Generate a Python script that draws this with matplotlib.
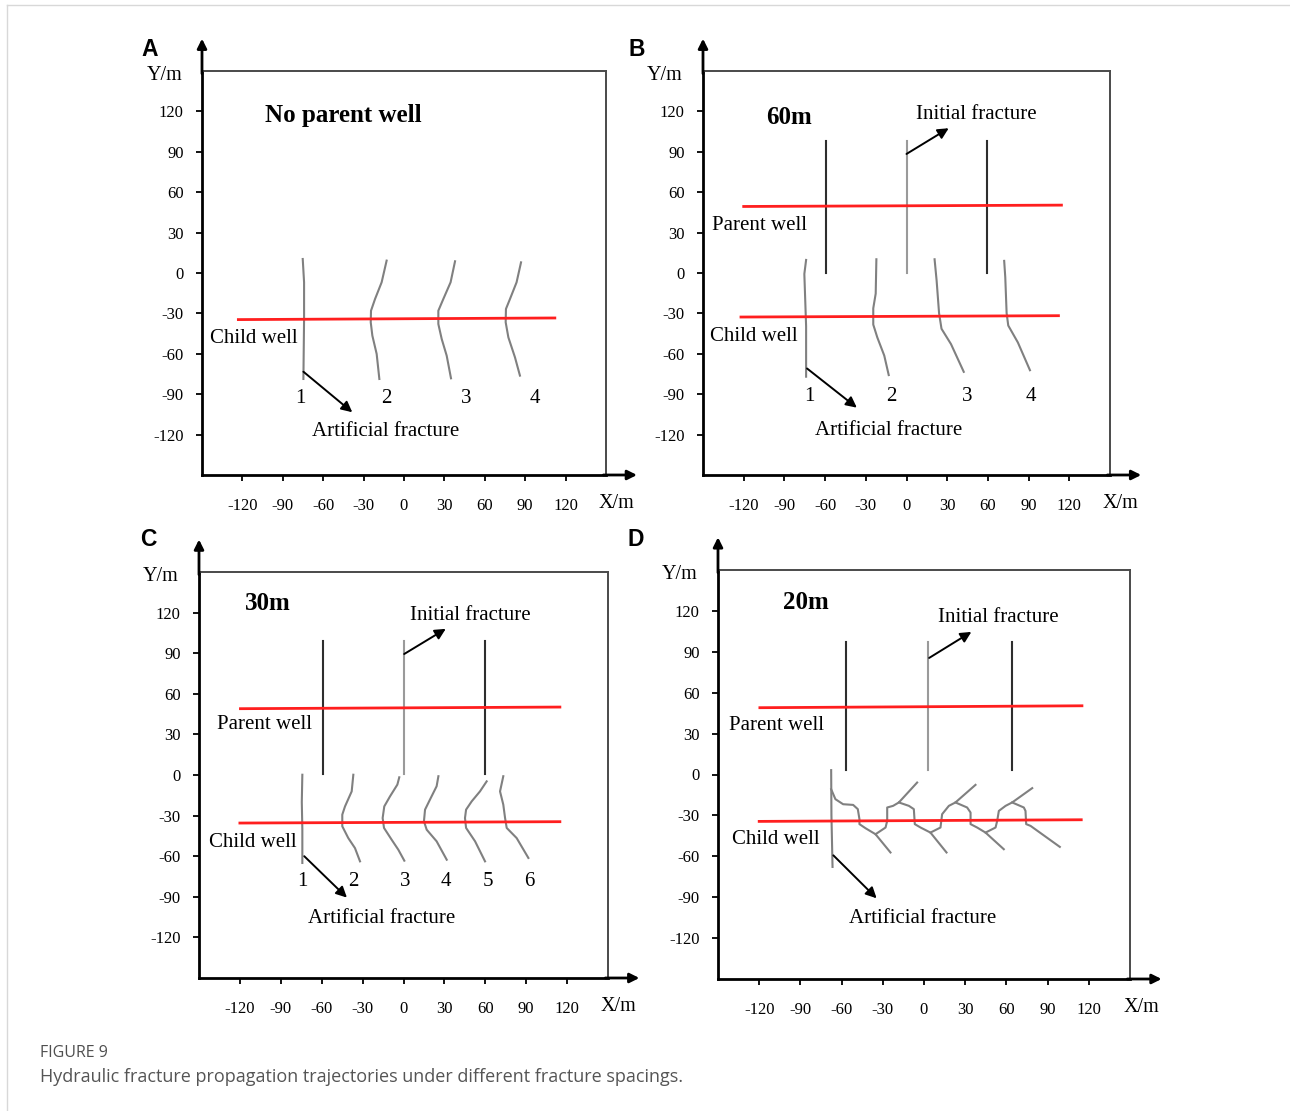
import matplotlib.pyplot as plt
from matplotlib.lines import Line2D

plt.rcParams['font.family'] = ['Liberation Serif', 'DejaVu Serif']

ticks = [-120, -90, -60, -30, 0, 30, 60, 90, 120]
tick_labels = ['-120', '-90', '-60', '-30', '0', '30', '60', '90', '120']

# ---- panel A: no parent well ----
a_child_well = ([-123, 112], [-34.6, -33.4])
a_fractures = [
    [(-75.2, 10.4), (-74.2, -6.9), (-74.2, -34.1), (-74.7, -78.7)],
    [(-12.9, 9.2), (-16.6, -6.9), (-21.5, -19.3), (-24.5, -28.0), (-24.7, -36.6),
     (-23.5, -46.5), (-20.3, -60.1), (-18.3, -78.7)],
    [(37.9, 8.7), (34.6, -6.9), (29.2, -19.3), (25.5, -28.0), (25.5, -37.9),
     (28.0, -49.0), (31.7, -61.4), (34.9, -78.2)],
    [(86.9, 7.9), (83.6, -6.9), (78.7, -19.3), (75.7, -26.7), (75.5, -36.6),
     (77.5, -47.8), (82.4, -62.6), (86.1, -76.2)],
]
a_numbers_x = [-76.7, -12.9, 46.5, 97.3]

# ---- panel B: 60 m ----
b_parent_well = ([-120, 114.2], [49.4, 50.4])
b_child_well = ([-122, 112], [-32.7, -31.7])
b_initial_x = [-59, 0, 59.6]
b_initial_y = (0, 98)
b_fractures = [
    [(-74, 9.7), (-75.3, -0.7), (-74, -39.5), (-74, -77)],
    [(-22.2, 10.2), (-22.7, -15.3), (-24.5, -26.2), (-24.5, -38.3), (-21.5, -47.9),
     (-16.4, -61.3), (-13.1, -75.8)],
    [(20.7, 10.2), (22.2, -5.6), (24.0, -29.8), (25.8, -41.4), (32.8, -52.8), (42.2, -73.4)],
    [(72.0, 9.0), (72.8, -3.1), (73.8, -29.8), (75.0, -39.0), (82.1, -51.6), (91.0, -72.2)],
]
b_numbers_x = [-71.5, -11.4, 44.7, 92]

# ---- panel C: 30 m ----
c_parent_well = ([-119.6, 114.7], [49.0, 50.2])
c_child_well = ([-120, 114.7], [-35.5, -34.5])
c_initial_x = [-59.3, 0, 60]
c_initial_y = (0.5, 99)
c_fractures = [
    [(-74.2, 0.2), (-74.6, -20), (-74.2, -40), (-74.2, -65)],
    [(-36.8, 0.2), (-38.0, -12.1), (-42.9, -23.2), (-44.9, -29.3), (-44.9, -37.9),
     (-40.5, -46.6), (-35.6, -54.0), (-31.9, -63.8)],
    [(-3.1, -1.7), (-4.5, -7.1), (-9.9, -15.8), (-14.1, -23.2), (-15.3, -31.8),
     (-14.3, -39.1), (-8.7, -47.8), (-3.8, -55.2), (0.6, -63.3)],
    [(25.6, -0.9), (24.3, -8.3), (19.4, -18.2), (15.8, -25.6), (15.0, -34.2),
     (17.0, -40.4), (24.3, -49.0), (31.7, -62.6)],
    [(61.0, -4.7), (56.1, -12.1), (50.0, -19.5), (45.9, -25.6), (45.1, -31.8),
     (45.9, -39.1), (52.5, -49.0), (59.8, -63.8)],
    [(73.2, -0.9), (70.8, -12.1), (73.2, -21.9), (74.5, -31.8), (75.7, -39.1),
     (83.0, -46.6), (91.6, -61.3)],
]
c_numbers_x = [-74.2, -36.8, 1.1, 31.2, 61.7, 92.1]

# ---- panel D: 20 m ----
d_parent_well = ([-119.5, 115], [49.0, 50.4])
d_child_well = ([-120, 114.5], [-34.4, -33.2])
d_initial_x = [-57, 3, 64]
d_initial_y = (3.2, 97)
d_fractures = [
    [(-67.6, 3.2), (-67.4, -30), (-66.6, -67.8)],
    [(-67.6, -10.8), (-64.5, -18.1), (-58.9, -21.8), (-51.6, -22.3), (-48.2, -25.4),
     (-47.0, -32.8), (-47.0, -36.4), (-42.6, -39.4), (-35.3, -43.8), (-24.4, -57.2)],
    [(-35.3, -43.8), (-28.0, -38.9), (-26.8, -34.0), (-26.8, -24.2), (-22.5, -23.0),
     (-18.3, -20.5), (-5.0, -5.9)],
    [(-18.3, -20.5), (-11.0, -23.0), (-7.4, -25.4), (-6.7, -36.4), (-2.5, -38.9),
     (4.7, -42.6), (16.4, -57.2)],
    [(4.7, -42.6), (12.0, -38.9), (13.2, -29.1), (18.1, -23.0), (22.9, -20.5), (37.5, -7.6)],
    [(22.9, -20.5), (31.4, -24.2), (33.9, -27.9), (33.9, -36.4), (38.7, -38.9),
     (44.8, -42.6), (58.1, -54.8)],
    [(44.8, -42.6), (52.1, -38.9), (53.3, -34.0), (54.5, -26.7), (59.4, -23.0),
     (64.2, -20.5), (78.8, -10.0)],
    [(64.2, -20.5), (72.7, -24.2), (73.9, -26.7), (74.4, -36.4), (77.6, -37.7), (98.9, -53.1)],
]

RED = '#ff1f1f'
FRAC = '#808080'
lab_fs = 15


def setup_axes(ax):
    ax.set_xlim(-150, 150)
    ax.set_ylim(-150, 150)
    ax.set_xticks(ticks)
    ax.set_yticks(ticks)
    ax.set_xticklabels(tick_labels)
    ax.set_yticklabels(tick_labels)
    ax.tick_params(axis='both', direction='out', length=4.3, width=1.3, labelsize=12)
    ax.tick_params(axis='x', pad=12)
    ax.tick_params(axis='y', pad=9)
    for s in ['top', 'right']:
        ax.spines[s].set_color('#4a4a4a')
        ax.spines[s].set_linewidth(1.4)
    for s in ['left', 'bottom']:
        ax.spines[s].set_color('black')
        ax.spines[s].set_linewidth(2)
    arrow = dict(arrowstyle='-|>', color='black', lw=2, mutation_scale=14,
                 shrinkA=0, shrinkB=0)
    ax.annotate('', xy=(-150, 174), xytext=(-150, 148), arrowprops=arrow,
                annotation_clip=False)
    ax.annotate('', xy=(173, -150), xytext=(148, -150), arrowprops=arrow,
                annotation_clip=False)
    ax.text(-178, 147, 'Y/m', fontsize=14.5, ha='center', va='center', clip_on=False)
    ax.text(158, -171, 'X/m', fontsize=14.5, ha='center', va='center', clip_on=False)


def draw_fractures(ax, fractures):
    for frac in fractures:
        xs = [p[0] for p in frac]
        ys = [p[1] for p in frac]
        ax.plot(xs, ys, color=FRAC, lw=1.5, solid_joinstyle='round')


def draw_initial(ax, xs, yr):
    for i, x in enumerate(xs):
        c = '#9a9a9a' if i == 1 else '#2e2e2e'
        ax.plot([x, x], list(yr), color=c, lw=1.5)


def arrow_note(ax, tail, head):
    ax.annotate('', xy=head, xytext=tail,
                arrowprops=dict(arrowstyle='-|>', color='black', lw=1.4,
                                mutation_scale=16, shrinkA=0, shrinkB=0))


fig = plt.figure(figsize=(12.9, 11.11), dpi=100)
W, H = 1290, 1111

axA = fig.add_axes([202 / W, 1 - 475 / H, 404 / W, 404 / H])
axB = fig.add_axes([703 / W, 1 - 475 / H, 407 / W, 404 / H])
axC = fig.add_axes([199 / W, 1 - 978 / H, 409 / W, 406 / H])
axD = fig.add_axes([718 / W, 1 - 979 / H, 412 / W, 409 / H])

for ax in [axA, axB, axC, axD]:
    setup_axes(ax)

# A
draw_fractures(axA, a_fractures)
axA.plot(*a_child_well, color=RED, lw=2)
for i, x in enumerate(a_numbers_x):
    axA.text(x, -93, str(i + 1), fontsize=lab_fs, ha='center', va='center')
arrow_note(axA, (-74.7, -73.3), (-38.4, -103.4))
axA.text(-13.6, -118, 'Artificial fracture', fontsize=lab_fs, ha='center', va='center')
axA.text(-144, -49, 'Child well', fontsize=lab_fs, ha='left', va='center')
axA.text(-103.2, 117, 'No parent well', fontsize=18, fontweight='bold', ha='left', va='center')

# B
draw_initial(axB, b_initial_x, b_initial_y)
draw_fractures(axB, b_fractures)
axB.plot(*b_parent_well, color=RED, lw=2)
axB.plot(*b_child_well, color=RED, lw=2)
for i, x in enumerate(b_numbers_x):
    axB.text(x, -92, str(i + 1), fontsize=lab_fs, ha='center', va='center')
arrow_note(axB, (-73.3, -70.9), (-36.6, -100))
axB.text(-13.4, -117, 'Artificial fracture', fontsize=lab_fs, ha='center', va='center')
arrow_note(axB, (0, 88.4), (31.1, 107.5))
axB.text(7.1, 118, 'Initial fracture', fontsize=lab_fs, ha='left', va='center')
axB.text(-143.5, 35, 'Parent well', fontsize=lab_fs, ha='left', va='center')
axB.text(-144.5, -47, 'Child well', fontsize=lab_fs, ha='left', va='center')
axB.text(-103.6, 115.5, '60m', fontsize=18, fontweight='bold', ha='left', va='center')

# C
draw_initial(axC, c_initial_x, c_initial_y)
draw_fractures(axC, c_fractures)
axC.plot(*c_parent_well, color=RED, lw=2)
axC.plot(*c_child_well, color=RED, lw=2)
for i, x in enumerate(c_numbers_x):
    axC.text(x, -78.5, str(i + 1), fontsize=lab_fs, ha='center', va='center')
arrow_note(axC, (-72.8, -60), (-41.5, -90.6))
axC.text(-16, -106, 'Artificial fracture', fontsize=lab_fs, ha='center', va='center')
arrow_note(axC, (0.5, 89.4), (31, 108))
axC.text(5, 118, 'Initial fracture', fontsize=lab_fs, ha='left', va='center')
axC.text(-137, 37, 'Parent well', fontsize=lab_fs, ha='left', va='center')
axC.text(-143, -50, 'Child well', fontsize=lab_fs, ha='left', va='center')
axC.text(-116.5, 127, '30m', fontsize=18, fontweight='bold', ha='left', va='center')

# D
draw_initial(axD, d_initial_x, d_initial_y)
draw_fractures(axD, d_fractures)
axD.plot(*d_parent_well, color=RED, lw=2)
axD.plot(*d_child_well, color=RED, lw=2)
arrow_note(axD, (-66, -59.3), (-34.5, -90.8))
axD.text(-1, -105.5, 'Artificial fracture', fontsize=lab_fs, ha='center', va='center')
arrow_note(axD, (3.75, 85.5), (34.5, 104.6))
axD.text(10, 115, 'Initial fracture', fontsize=lab_fs, ha='left', va='center')
axD.text(-142, 36, 'Parent well', fontsize=lab_fs, ha='left', va='center')
axD.text(-140, -48, 'Child well', fontsize=lab_fs, ha='left', va='center')
axD.text(-103, 126, '20m', fontsize=18, fontweight='bold', ha='left', va='center')

# panel letters
for lab, (px, py) in zip('ABCD', [(150, 50), (637, 49), (148, 540), (636, 540)]):
    fig.text(px / W, 1 - py / H, lab, fontsize=16.5, fontweight='bold',
             family=['Liberation Sans', 'DejaVu Sans'], ha='center', va='center')

# caption
fig.text(40 / W, 1 - 1053 / H, 'FIGURE 9', fontsize=11.5, color='#4f4f4f',
         family=['Open Sans', 'DejaVu Sans'], ha='left', va='center')
fig.text(40 / W, 1 - 1077 / H,
         'Hydraulic fracture propagation trajectories under different fracture spacings.',
         fontsize=13, color='#555555', family=['Open Sans', 'DejaVu Sans'],
         ha='left', va='center')

# thin page frame
fig.add_artist(Line2D([7 / W, 1], [1 - 5 / H, 1 - 5 / H], color='#d8d8d8', lw=1,
                      transform=fig.transFigure))
fig.add_artist(Line2D([7 / W, 7 / W], [0, 1 - 5 / H], color='#d8d8d8', lw=1,
                      transform=fig.transFigure))

fig.savefig('out.png', dpi=100)
